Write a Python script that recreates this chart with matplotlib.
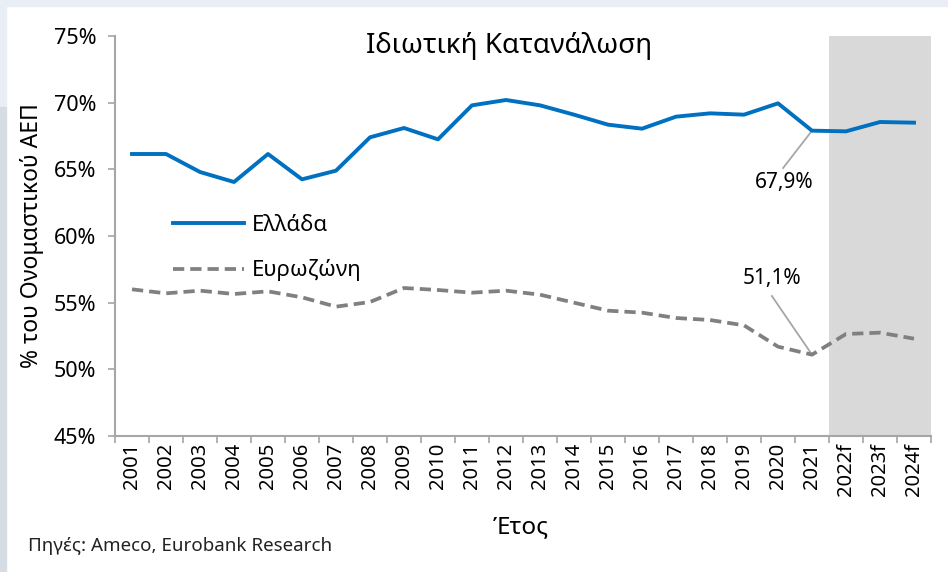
import matplotlib
matplotlib.use("Agg")
import matplotlib.pyplot as plt
from matplotlib.patches import Rectangle

plt.rcParams['font.family'] = ['Noto Sans', 'DejaVu Sans']

years = ['2001', '2002', '2003', '2004', '2005', '2006', '2007', '2008', '2009', '2010',
         '2011', '2012', '2013', '2014', '2015', '2016', '2017', '2018', '2019', '2020',
         '2021', '2022f', '2023f', '2024f']
greece = [66.15, 66.15, 64.8, 64.05, 66.15, 64.25, 64.9, 67.4, 68.1, 67.25,
          69.8, 70.2, 69.8, 69.1, 68.35, 68.05, 68.95, 69.2, 69.1, 69.95,
          67.9, 67.85, 68.55, 68.5]
eurozone = [56.0, 55.7, 55.9, 55.65, 55.85, 55.4, 54.7, 55.05, 56.1, 55.95,
            55.75, 55.9, 55.6, 55.0, 54.4, 54.25, 53.85, 53.7, 53.3, 51.7,
            51.1, 52.65, 52.75, 52.3]
series_names = ['Ελλάδα', 'Ευρωζώνη']
title = 'Ιδιωτική Κατανάλωση'
ylabel = '% του Ονομαστικού ΑΕΠ'
xlabel = 'Έτος'
source = 'Πηγές: Ameco, Eurobank Research'
yticks = [45, 50, 55, 60, 65, 70, 75]
forecast_start = 21

W, H = 948, 572
fig = plt.figure(figsize=(W / 100, H / 100), dpi=100)
fig.patch.set_facecolor('white')

# background frame strips
fig.patches.append(Rectangle((0, 1 - 6 / H), 1, 6 / H, transform=fig.transFigure,
                             color='#e9edf5', zorder=0))
fig.patches.append(Rectangle((0, 1 - 107 / H), 6 / W, 107 / H, transform=fig.transFigure,
                             color='#e9edf5', zorder=0))
fig.patches.append(Rectangle((0, 0), 6 / W, 1 - 107 / H, transform=fig.transFigure,
                             color='#d6dce4', zorder=0))

ax = fig.add_axes([115 / W, 1 - 436 / H, (931 - 115) / W, (436 - 36) / H])
x = list(range(len(years)))

ax.axvspan(forecast_start - 0.5, len(years) - 0.5, color='#d9d9d9', lw=0, zorder=0)
ax.plot(x, greece, color='#0070c0', lw=2.8, solid_joinstyle='round', label=series_names[0], zorder=3)
ax.plot(x, eurozone, color='#808080', lw=2.7, ls=(0, (3, 1.6)), label=series_names[1], zorder=3)

ax.set_xlim(-0.5, len(years) - 0.5)
ax.set_ylim(45, 75)
ax.set_yticks(yticks)
ax.set_yticklabels([f'{v}%' for v in yticks], fontsize=15.5)
ax.set_xticks([i - 0.5 for i in range(len(years) + 1)])
ax.set_xticklabels([])
ax.set_xticks(x, minor=True)
ax.set_xticklabels(years, minor=True, rotation=90, fontsize=14.5)
ax.tick_params(axis='x', which='minor', length=0, pad=5)
ax.tick_params(axis='x', which='major', length=5, color='#a6a6a6', width=1.2)
ax.tick_params(axis='y', length=5, color='#a6a6a6', width=1.2, pad=8.5)
for s in ['top', 'right']:
    ax.spines[s].set_visible(False)
for s in ['left', 'bottom']:
    ax.spines[s].set_color('#a6a6a6')
    ax.spines[s].set_linewidth(1.5)

ax.set_ylabel(ylabel, fontsize=16.5)
ax.yaxis.set_label_coords((44 - 115) / 816, 0.5)

# annotations (label text plus a thin leader line)
i21 = 20
lbl_g = f'{greece[i21]:.1f}%'.replace('.', ',')
lbl_e = f'{eurozone[i21]:.1f}%'.replace('.', ',')
ax.plot([x[i21], x[i21] - 0.85], [greece[i21], 65.1], color='#a6a6a6', lw=1.3, zorder=2)
ax.text(x[i21] - 0.82, 63.98, lbl_g, fontsize=15, ha='center', va='center')
ax.plot([x[i21], x[i21] - 1.18], [eurozone[i21], 55.5], color='#a6a6a6', lw=1.3, zorder=2)
ax.text(x[i21] - 1.18, 56.78, lbl_e, fontsize=15, ha='center', va='center')

leg = ax.legend(loc='upper left', bbox_to_anchor=((173 - 115) / 816, 1 - (215 - 36) / 400),
                frameon=False, fontsize=16, handlelength=3.2, handletextpad=0.35,
                labelspacing=1.05, borderpad=0, borderaxespad=0)

fig.text(509 / W, 1 - 46 / H, title, fontsize=20, ha='center', va='center')
fig.text(521 / W, 1 - 527 / H, xlabel, fontsize=17.5, ha='center', va='center')
fig.text(28 / W, 1 - 546 / H, source, fontsize=13.5, ha='left', va='center', color='#222222')

fig.savefig('out.png', dpi=100)
